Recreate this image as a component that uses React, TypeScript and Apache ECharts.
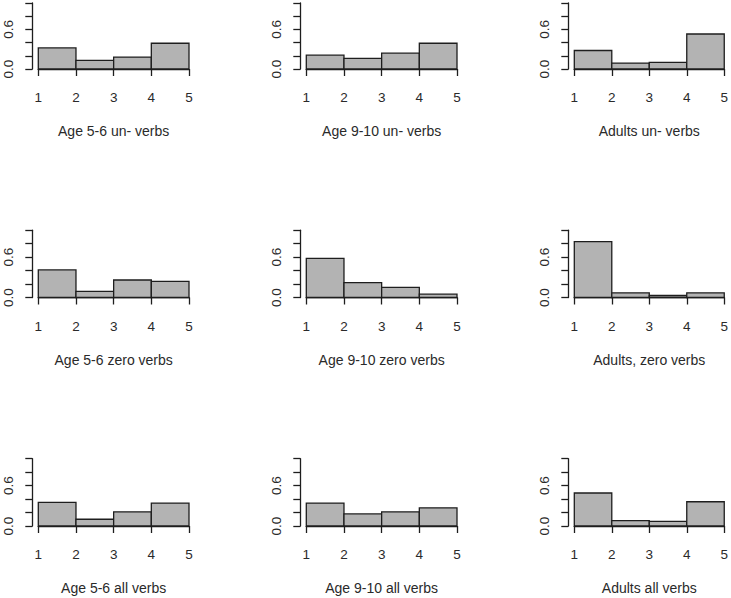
import React, { useEffect, useRef } from "react";
import * as echarts from "echarts";

// Bin edges of every histogram (x axis ticks)
const binEdges = [1, 2, 3, 4, 5];
// Y tick labels that are printed
const yLabelValues = [0, 0.6];

// Density of each bin [1-2, 2-3, 3-4, 4-5]
const age56Un = [0.32, 0.13, 0.18, 0.39];
const age910Un = [0.21, 0.16, 0.24, 0.39];
const adultsUn = [0.28, 0.09, 0.1, 0.53];
const age56Zero = [0.41, 0.09, 0.26, 0.24];
const age910Zero = [0.58, 0.22, 0.15, 0.05];
const adultsZero = [0.83, 0.07, 0.03, 0.07];
const age56All = [0.35, 0.1, 0.21, 0.34];
const age910All = [0.34, 0.18, 0.21, 0.27];
const adultsAll = [0.49, 0.08, 0.07, 0.36];

const panelTitles = [
  "Age 5-6 un- verbs",
  "Age 9-10 un- verbs",
  "Adults un- verbs",
  "Age 5-6 zero verbs",
  "Age 9-10 zero verbs",
  "Adults, zero verbs",
  "Age 5-6 all verbs",
  "Age 9-10 all verbs",
  "Adults all verbs",
];
const panelValues = [
  age56Un, age910Un, adultsUn,
  age56Zero, age910Zero, adultsZero,
  age56All, age910All, adultsAll,
];

const FONT = "'Liberation Sans', Arial, Helvetica, sans-serif";
const INK = "#1e1e1e";
const TEXT = "#2a2a2a";

export default function App() {
  const ref = useRef<HTMLDivElement>(null);

  useEffect(() => {
    if (!ref.current) return;
    const chart = echarts.init(ref.current, null, { renderer: "svg" });

    const grids: any[] = [];
    const xAxes: any[] = [];
    const yAxes: any[] = [];
    const series: any[] = [];

    panelValues.forEach((vals, i) => {
      const c = i % 3;
      const r = Math.floor(i / 3);
      grids.push({
        left: 38.3 + 268 * c,
        top: 1.7 + 228.5 * r,
        width: 150.7,
        height: 67.3,
      });
      xAxes.push({
        gridIndex: i,
        type: "value",
        min: binEdges[0],
        max: binEdges[binEdges.length - 1],
        interval: 1,
        offset: 3,
        axisLine: { show: true, lineStyle: { color: INK, width: 1.3 } },
        axisTick: { show: true, length: 7, inside: false, lineStyle: { color: INK, width: 1.3 } },
        axisLabel: { margin: 18.5, fontSize: 13.5, fontFamily: FONT, color: TEXT },
        splitLine: { show: false },
        name: panelTitles[i],
        nameLocation: "middle",
        nameGap: 52,
        nameTextStyle: { fontSize: 14, fontFamily: FONT, color: TEXT },
      });
      yAxes.push({
        gridIndex: i,
        type: "value",
        min: 0,
        max: 1,
        interval: 0.2,
        offset: 6,
        axisLine: { show: true, lineStyle: { color: INK, width: 1.3 } },
        axisTick: { show: true, length: 7, inside: false, lineStyle: { color: INK, width: 1.3 } },
        axisLabel: {
          rotate: 90,
          margin: 17,
          fontSize: 13.5,
          fontFamily: FONT,
          color: TEXT,
          formatter: (v: number) =>
            yLabelValues.some((t) => Math.abs(t - v) < 1e-9) ? v.toFixed(1) : "",
        },
        splitLine: { show: false },
      });
      series.push({
        type: "custom",
        xAxisIndex: i,
        yAxisIndex: i,
        data: vals.map((v, k) => [binEdges[k], binEdges[k + 1], v]),
        encode: { x: [0, 1], y: 2 },
        renderItem: (_p: any, api: any) => {
          const lo = api.value(0);
          const hi = api.value(1);
          const v = api.value(2);
          const p0 = api.coord([lo, 0]);
          const p1 = api.coord([hi, v]);
          return {
            type: "rect",
            shape: {
              x: p0[0],
              y: p1[1],
              width: p1[0] - p0[0],
              height: p0[1] - p1[1],
            },
            style: { fill: "#b3b3b3", stroke: INK, lineWidth: 1.3 },
          };
        },
      });
    });

    chart.setOption({
      animation: false,
      backgroundColor: "#ffffff",
      textStyle: { fontFamily: FONT },
      grid: grids,
      xAxis: xAxes,
      yAxis: yAxes,
      series,
    });

    return () => chart.dispose();
  }, []);

  return (
    <div
      ref={ref}
      style={{ position: "fixed", left: 0, top: 0, width: 731, height: 598, background: "#fff" }}
    />
  );
}
